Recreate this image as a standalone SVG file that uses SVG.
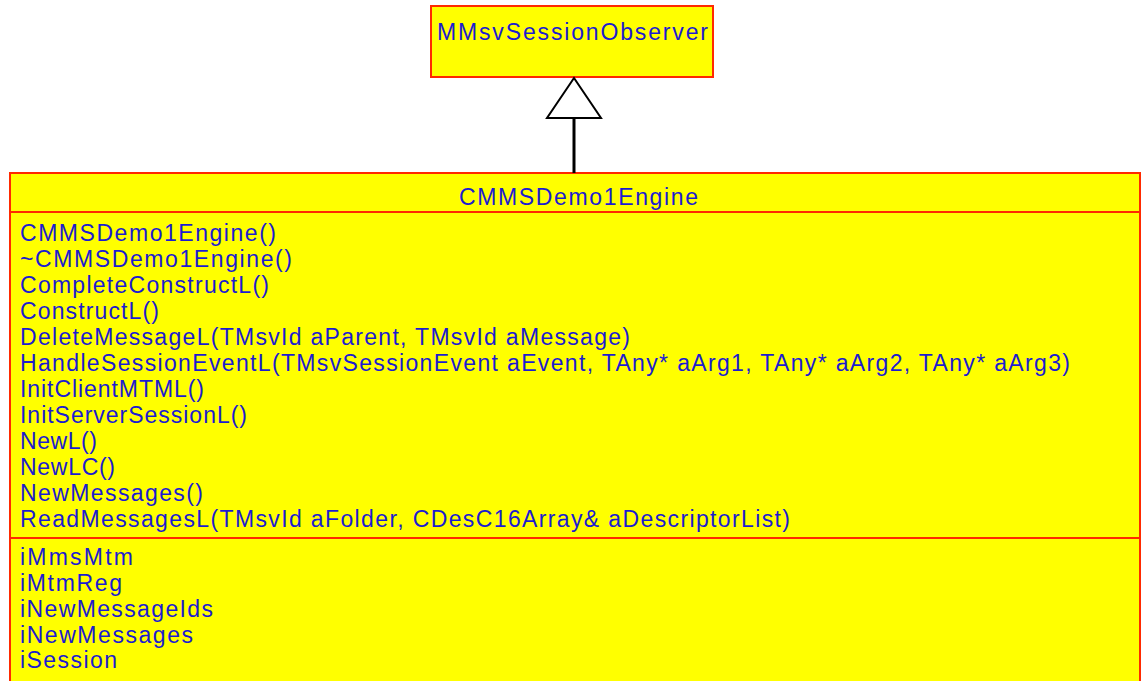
<svg xmlns="http://www.w3.org/2000/svg" width="1142" height="681" viewBox="0 0 1142 681">
<style>
.box{fill:#ffff00;stroke:#ff2a00;stroke-width:2}
.sep{stroke:#ff2a00;stroke-width:2}
.t{font-family:"Liberation Sans",Arial,sans-serif;font-size:23px;fill:#1c1cd0}
</style>
<rect width="1142" height="681" fill="#ffffff"/>
<g id="MMsvSessionObserver">
<rect class="box" x="431" y="6" width="282" height="71"/>
<text class="t" x="437" y="40" textLength="271">MMsvSessionObserver</text>
</g>
<g id="CMMSDemo1Engine">
<rect class="box" x="10" y="173" width="1130" height="520"/>
<line class="sep" x1="10" y1="212" x2="1140" y2="212"/>
<line class="sep" x1="10" y1="538" x2="1140" y2="538"/>
<text class="t" x="459" y="205" textLength="239">CMMSDemo1Engine</text>
<text class="t" x="20" y="241" textLength="256">CMMSDemo1Engine()</text>
<text class="t" x="20" y="267" textLength="272">~CMMSDemo1Engine()</text>
<text class="t" x="20" y="293" textLength="249">CompleteConstructL()</text>
<text class="t" x="20" y="319" textLength="139">ConstructL()</text>
<text class="t" x="20" y="345" textLength="610">DeleteMessageL(TMsvId aParent, TMsvId aMessage)</text>
<text class="t" x="20" y="371" textLength="1050">HandleSessionEventL(TMsvSessionEvent aEvent, TAny* aArg1, TAny* aArg2, TAny* aArg3)</text>
<text class="t" x="20" y="397" textLength="184">InitClientMTML()</text>
<text class="t" x="20" y="423" textLength="227">InitServerSessionL()</text>
<text class="t" x="20" y="449" textLength="77">NewL()</text>
<text class="t" x="20" y="475" textLength="95">NewLC()</text>
<text class="t" x="20" y="501" textLength="183">NewMessages()</text>
<text class="t" x="20" y="527" textLength="770">ReadMessagesL(TMsvId aFolder, CDesC16Array&amp; aDescriptorList)</text>
<text class="t" x="20" y="565" textLength="113">iMmsMtm</text>
<text class="t" x="20" y="591" textLength="102">iMtmReg</text>
<text class="t" x="20" y="617" textLength="193">iNewMessageIds</text>
<text class="t" x="20" y="643" textLength="173">iNewMessages</text>
<text class="t" x="20" y="668" textLength="97">iSession</text>
</g>
<g id="connectors">
<line x1="574" y1="119" x2="574" y2="173" stroke="#000" stroke-width="3"/>
<polygon points="574,78 547,118 601,118" fill="#ffffff" stroke="#000" stroke-width="2"/>
</g>
</svg>
